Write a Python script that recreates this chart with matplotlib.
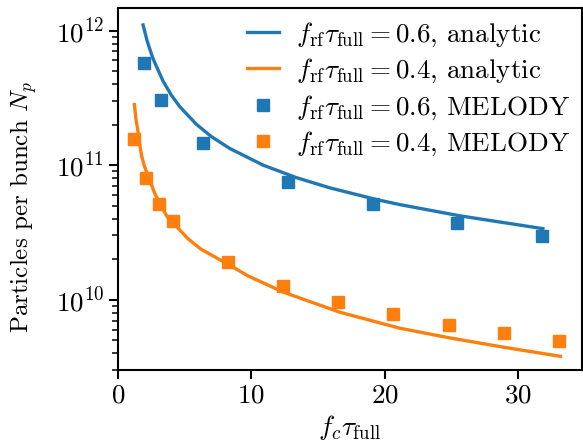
import matplotlib
matplotlib.use("Agg")
import matplotlib.pyplot as plt

plt.rcParams['font.family'] = 'serif'
plt.rcParams['font.serif'] = ['cmr10', 'DejaVu Serif']
plt.rcParams['mathtext.fontset'] = 'cm'
plt.rcParams['axes.formatter.use_mathtext'] = True

# analytic curves
ana_x_06 = [1.88, 2.2, 2.63, 3.38, 4.0, 4.63, 5.88, 7.0, 8.38, 10.88, 13.38,
            15.88, 19.38, 21.13, 25.63, 31.88]
ana_y_06 = [1.10e12, 8.28e11, 6.17e11, 4.21e11, 3.31e11, 2.72e11, 2.01e11, 1.63e11,
            1.33e11, 1.00e11, 8.07e10, 6.78e10, 5.55e10, 5.09e10, 4.20e10, 3.37e10]
ana_x_04 = [1.23, 1.35, 1.478, 1.605, 1.778, 1.98, 2.356, 2.73, 3.226, 3.728,
            4.351, 5.229, 6.227, 8.23, 9.73, 12.38, 16.63, 21.13, 24.88, 28.88, 33.2]
ana_y_04 = [2.815e11, 2.18e11, 1.84e11, 1.466e11, 1.166e11, 9.83e10, 7.84e10,
            6.25e10, 4.97e10, 4.08e10, 3.53e10, 2.85e10, 2.37e10, 1.84e10,
            1.506e10, 1.14e10, 8.07e9, 6.14e9, 5.2e9, 4.44e9, 3.79e9]

# MELODY simulation points
mel_x_06 = [1.93, 3.2, 6.38, 12.78, 19.1, 25.46, 31.8]
mel_y_06 = [5.73e11, 3.07e11, 1.47e11, 7.48e10, 5.12e10, 3.74e10, 2.98e10]
mel_x_04 = [1.23, 2.1, 3.1, 4.1, 8.23, 12.36, 16.5, 20.63, 24.8, 28.93, 33.06]
mel_y_04 = [1.55e11, 8.0e10, 5.15e10, 3.85e10, 1.91e10, 1.26e10, 9.67e9, 7.83e9,
            6.53e9, 5.64e9, 4.92e9]

blue = '#1f77b4'
orange = '#ff7f0e'
fs = 19.5

fig = plt.figure(figsize=(5.83, 4.45), dpi=100)
ax = fig.add_axes([0.2024, 0.1685, 0.7956, 0.8135])

ax.plot(ana_x_06, ana_y_06, color=blue, lw=2.4,
        label=r'$f_\mathrm{rf}\tau_\mathrm{full} = 0.6$, analytic')
ax.plot(ana_x_04, ana_y_04, color=orange, lw=2.4,
        label=r'$f_\mathrm{rf}\tau_\mathrm{full} = 0.4$, analytic')
ax.plot(mel_x_06, mel_y_06, 's', color=blue, ms=8.5, ls='none',
        label=r'$f_\mathrm{rf}\tau_\mathrm{full} = 0.6$, MELODY')
ax.plot(mel_x_04, mel_y_04, 's', color=orange, ms=8.5, ls='none',
        label=r'$f_\mathrm{rf}\tau_\mathrm{full} = 0.4$, MELODY')

ax.set_yscale('log')
ax.set_xlim(0, 34.8)
ax.set_ylim(3.0e9, 1.47e12)
ax.set_xticks([0, 10, 20, 30])

for s in ax.spines.values():
    s.set_linewidth(1.5)
ax.tick_params(which='major', length=6.5, width=1.5, labelsize=fs)
ax.tick_params(which='minor', length=4, width=1.1)

ax.set_xlabel(r'$f_c\tau_\mathrm{full}$', fontsize=fs)
ax.set_ylabel(r'Particles per bunch $N_p$', fontsize=18)
ax.yaxis.set_label_coords(-0.17, 0.45)

ax.legend(loc='upper right', frameon=False, fontsize=fs, numpoints=1,
          handlelength=1.2, handletextpad=0.6, borderaxespad=0.05,
          labelspacing=0.3)

fig.savefig('out.png', dpi=100)
